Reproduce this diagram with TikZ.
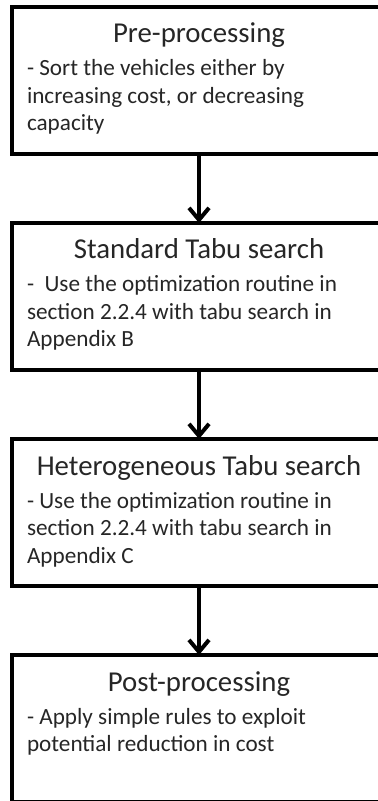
\documentclass[tikz,border=0pt]{standalone}
\usepackage{fontspec}
\setmainfont{Carlito}
\usetikzlibrary{arrows.meta,positioning}
\tikzset{
  stage/.style={draw,line width=2pt,inner xsep=7.5pt,inner ysep=0pt,outer sep=0pt,text=black!85},
  flow/.style={line width=2pt,-{Straight Barb[length=6pt,width=10pt]}},
  every node/.style={font=\fontsize{11.6}{13.75}\selectfont}
}
% title line centred, description below it, box of fixed height
\newcommand{\stagetext}[2]{%
  \parbox[c][73.5pt][t]{172pt}{\centering\fontsize{14.4}{15}\selectfont
    \rule{0pt}{18pt}#1\par\vspace{2.75pt}%
    \raggedright\fontsize{11.6}{13.75}\selectfont #2}}

\begin{document}
\begin{tikzpicture}
  % page frame, boxes run off the right and bottom edges
  \useasboundingbox (0,0) rectangle (189pt,-400.5pt);
  \clip (0,0) rectangle (189pt,-400.5pt);

  % stages
  \node[stage,anchor=north] (pre) at (99.5pt,-3.5pt)
    {\stagetext{Pre-processing}{- Sort the vehicles either by\\increasing cost, or decreasing\\capacity}};
  \node[stage,below=34.5pt of pre] (std)
    {\stagetext{Standard Tabu search}{-~\ Use the optimization routine in\\section 2.2.4 with tabu search in\\Appendix B}};
  \node[stage,below=34.5pt of std] (het)
    {\stagetext{Heterogeneous Tabu search}{- Use the optimization routine in\\section 2.2.4 with tabu search in\\Appendix C}};
  \node[stage,below=34.5pt of het] (post)
    {\stagetext{Post-processing}{- Apply simple rules to exploit\\potential reduction in cost}};

  % flow between stages
  \draw[flow] (pre.south) -- (std.north);
  \draw[flow] (std.south) -- (het.north);
  \draw[flow] (het.south) -- (post.north);
\end{tikzpicture}
\end{document}
